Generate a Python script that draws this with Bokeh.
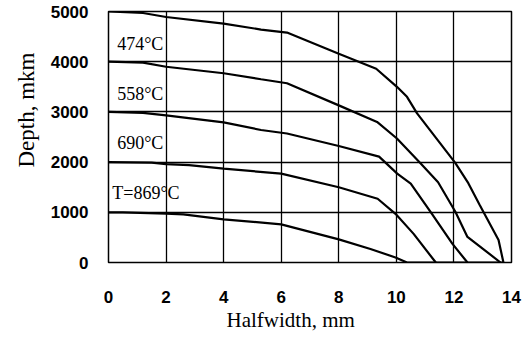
from bokeh.plotting import figure
from bokeh.models import Label, FixedTicker, Range1d, Title
from bokeh.embed import file_html
from bokeh.resources import INLINE

x_ticks = [0, 2, 4, 6, 8, 10, 12, 14]
y_ticks = [0, 1000, 2000, 3000, 4000, 5000]

s5_x = [0, 1.2, 2, 4, 5.3, 6.2, 8, 9.3, 10.02, 10.37, 10.72, 12.04, 12.5, 12.9, 13.55, 13.72]
s5_y = [5000, 4970, 4890, 4760, 4640, 4580, 4160, 3860, 3500, 3300, 2970, 1990, 1580, 1140, 450, 0]

s4_x = [0, 1.2, 2, 4, 5.3, 6.2, 8, 9.33, 10.02, 10.83, 11.45, 12.05, 12.47, 13.62]
s4_y = [4000, 3980, 3900, 3770, 3650, 3570, 3130, 2800, 2470, 1980, 1600, 1010, 510, 0]

s3_x = [0, 1.2, 2, 4, 5.3, 6.2, 8, 9.4, 10.03, 10.5, 11.2, 11.95, 12.47]
s3_y = [3000, 2980, 2930, 2790, 2640, 2570, 2320, 2110, 1770, 1570, 1000, 370, 0]

s2_x = [0, 1.5, 2, 2.8, 4, 6, 8, 9.35, 9.97, 10.6, 11.37]
s2_y = [2000, 1990, 1960, 1940, 1870, 1770, 1500, 1270, 970, 570, 0]

s1_x = [0, 0.5, 2, 2.6, 4, 6, 8, 9.1, 9.97, 10.37, 13.7]
s1_y = [1000, 1000, 975, 960, 860, 760, 460, 270, 100, 0, 0]

curve_labels = ["474°C", "558°C", "690°C", "T=869°C"]
label_x = [0.3, 0.3, 0.3, 0.13]
label_y = [4350, 3350, 2390, 1375]

x_title = "Halfwidth, mm"
y_title = "Depth, mkm"

p = figure(width=531, height=347, output_backend="svg", toolbar_location=None,
           x_range=Range1d(0, 14), y_range=Range1d(0, 5000),
           min_border_left=108, min_border_right=20, min_border_top=11, min_border_bottom=85)

p.background_fill_color = "white"
p.border_fill_color = "white"
p.outline_line_color = "black"
p.outline_line_width = 1.5

for ax in (p.xaxis[0], p.yaxis[0]):
    ax.major_tick_line_color = None
    ax.minor_tick_line_color = None
    ax.axis_line_color = None
    ax.major_label_text_font = "Liberation Sans"
    ax.major_label_text_font_style = "bold"
    ax.major_label_text_font_size = "17px"
    ax.major_label_text_color = "black"

p.xaxis[0].ticker = FixedTicker(ticks=x_ticks)
p.yaxis[0].ticker = FixedTicker(ticks=y_ticks)
p.xaxis[0].major_label_standoff = 22
p.yaxis[0].major_label_standoff = 14

p.xgrid.ticker = FixedTicker(ticks=x_ticks)
p.ygrid.ticker = FixedTicker(ticks=y_ticks)
for g in (p.xgrid[0], p.ygrid[0]):
    g.grid_line_color = "black"
    g.grid_line_width = 1.3
    g.grid_line_alpha = 1.0

for xs, ys in [(s5_x, s5_y), (s4_x, s4_y), (s3_x, s3_y), (s2_x, s2_y), (s1_x, s1_y)]:
    p.line(xs, ys, line_color="black", line_width=2.2)

for t, lx, ly in zip(curve_labels, label_x, label_y):
    p.add_layout(Label(x=lx, y=ly, text=t, text_font="Liberation Serif",
                       text_font_size="18px", text_color="black",
                       text_align="left", text_baseline="middle"))

p.add_layout(Title(text=x_title, align="left", offset=118, standoff=0,
                   text_font="Liberation Serif", text_font_size="21px",
                   text_font_style="normal", text_color="black"), "below")
p.add_layout(Title(text=y_title, align="left", offset=95, standoff=18,
                   text_font="Liberation Serif", text_font_size="23px",
                   text_font_style="normal", text_color="black"), "left")

open("out.html", "w").write(file_html(p, INLINE))
